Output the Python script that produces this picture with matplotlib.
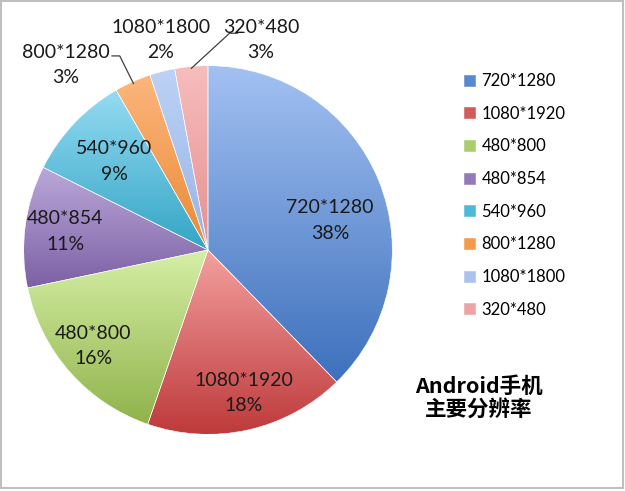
import numpy as np
import matplotlib.pyplot as plt
from matplotlib.colors import LinearSegmentedColormap
from matplotlib.patches import Rectangle

# resolution shares (clockwise from 12 o'clock)
resolutions = ['720*1280', '1080*1920', '480*800', '480*854',
               '540*960', '800*1280', '1080*1800', '320*480']
shares = [37.7, 17.6, 16.4, 10.7, 9.3, 3.2, 2.2, 2.9]

# Excel-like gradient: light at the top of each slice, darker at the bottom
top_colors = ['#A3C1F2', '#F4A0A0', '#D6EFA6', '#BBA8D9',
              '#95DBF2', '#FCB67E', '#BDD2F5', '#F7BDBD']
bottom_colors = ['#3D70BC', '#BE3A3B', '#90B34B', '#7C60A4',
                 '#33A5C5', '#E98A33', '#97B4E8', '#E59090']
legend_colors = ['#5A88CF', '#D25B5B', '#AACD6E', '#9379B9',
                 '#4DB9D9', '#F39A4C', '#A8C3EE', '#EDA4A4']

plt.rcParams['font.family'] = ['Lato', 'DejaVu Sans']

W, H = 625, 491
fig = plt.figure(figsize=(W / 100, H / 100), dpi=100)

# pie centre (208, 250) px, radius 188 px
cx, cy, R = 208, 250, 188
ax = fig.add_axes([(cx - R) / W, (H - cy - R) / H, 2 * R / W, 2 * R / H])

wedges, _ = ax.pie(shares, startangle=90, counterclock=False,
                   colors=legend_colors, radius=1,
                   wedgeprops=dict(edgecolor='white', linewidth=0.4))

# paint a vertical gradient into each wedge
for w, c_top, c_bot in zip(wedges, top_colors, bottom_colors):
    ext = w.get_path().get_extents()
    cmap = LinearSegmentedColormap.from_list('g', [c_bot, c_top])
    grad = np.linspace(0, 1, 256).reshape(-1, 1)
    im = ax.imshow(grad, cmap=cmap, origin='lower', aspect='auto',
                   extent=(ext.x0, ext.x1, ext.y0, ext.y1),
                   interpolation='bilinear', zorder=w.get_zorder() + 0.1)
    im.set_clip_path(w)
    w.set_zorder(w.get_zorder() + 0.2)
    w.set_facecolor('none')

ax.set_xlim(-1.02, 1.02)
ax.set_ylim(-1.02, 1.02)
ax.set_aspect('equal')
ax.axis('off')

labels = [f'{r}\n{round(s)}%' for r, s in zip(resolutions, shares)]

# inside labels: radius along the slice's mid angle (first one nudged)
inside_r = [0.68, 0.80, 0.81, 0.78, 0.70]
inside_shift = [-8.6, 1.5, -1.5, 0, 0]
for i in range(5):
    w = wedges[i]
    mid = np.deg2rad((w.theta1 + w.theta2) / 2 + inside_shift[i])
    ax.text(inside_r[i] * np.cos(mid), inside_r[i] * np.sin(mid), labels[i],
            ha='center', va='center', fontsize=14, color='#1a1a1a',
            linespacing=1.6, zorder=10)

# outside labels with leader lines
outside_pos = [(-0.771, 1.005), (-0.255, 1.138), (0.287, 1.138)]
outside_elbow = [[(-0.521, 1.053), (-0.479, 1.053)], None,
                 [(0.160, 1.176), (0.117, 1.176)]]
for k, i in enumerate(range(5, 8)):
    w = wedges[i]
    tx, ty = outside_pos[k]
    ax.text(tx, ty, labels[i], ha='center', va='center', fontsize=14,
            color='#1a1a1a', linespacing=1.6, zorder=10, clip_on=False)
    if outside_elbow[k] is not None:
        mid = np.deg2rad((w.theta1 + w.theta2) / 2)
        pts = outside_elbow[k] + [(np.cos(mid) * 0.99, np.sin(mid) * 0.99)]
        xs, ys = zip(*pts)
        ax.plot(xs, ys, color='#404040', lw=0.9, clip_on=False, zorder=9)

leg = fig.legend(wedges, resolutions, loc='upper left',
                 bbox_to_anchor=(449 / W, 1 - 58 / H), frameon=False,
                 fontsize=12, handlelength=0.65, handleheight=0.65,
                 handletextpad=0.4, labelspacing=1.0)
for h, c in zip(leg.legend_handles, legend_colors):
    h.set_facecolor(c)
    h.set_edgecolor(c)

fig.text(479 / W, 1 - 398 / H, 'Android手机\n主要分辨率', ha='center',
         va='center', fontsize=15.5, fontweight='bold',
         family=['Noto Sans CJK SC', 'DejaVu Sans'], linespacing=1.1)

# light grey frame around the whole chart
fig.patches.append(Rectangle((1 / W, 3 / H), 622 / W, 487 / H,
                             transform=fig.transFigure, fill=False,
                             edgecolor='#BFBFBF', linewidth=1.5))

fig.savefig('out.png', dpi=100)
